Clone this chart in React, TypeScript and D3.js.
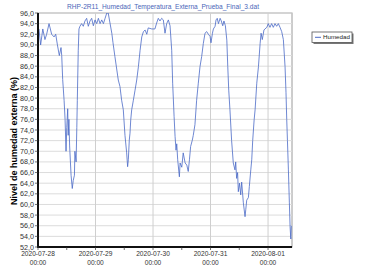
import React from 'react';
import * as d3 from 'd3';

// hours since 2020-07-28 00:00
const hours = [
  0.4, 1.1, 2.0, 2.9, 3.6, 4.6, 5.7, 6.7, 7.4, 8.1, 8.9, 9.6, 9.9, 10.3, 10.9, 11.3, 11.7, 12.0, 12.4, 12.6,
  12.9, 13.2, 13.8, 14.3, 14.7, 15.2, 15.4, 15.9, 16.2, 16.4, 16.8, 17.1, 17.5, 18.2, 18.9, 19.6, 20.3, 21.0, 21.7, 22.4,
  23.1, 23.8, 24.5, 25.2, 25.9, 26.6, 27.3, 28.0, 28.7, 29.3, 30.8, 31.3, 32.1, 33.5, 34.2, 34.9, 35.6, 36.3, 37.0, 37.4,
  37.7, 38.1, 38.4, 38.7, 39.1, 39.8, 40.5, 41.2, 41.9, 42.6, 43.3, 44.0, 44.7, 45.4, 46.0, 47.5, 48.8, 49.5, 50.2, 50.9,
  51.6, 52.3, 53.0, 53.7, 54.4, 55.1, 55.8, 56.2, 56.8, 57.2, 57.6, 57.9, 58.3, 59.0, 59.3, 60.0, 60.6, 61.4, 62.1, 62.7,
  63.2, 63.7, 64.4, 64.8, 65.5, 66.2, 66.9, 67.6, 68.3, 69.0, 69.7, 70.4, 71.1, 71.8, 72.2, 72.8, 73.2, 73.9, 74.3, 74.8,
  75.3, 76.0, 76.5, 77.1, 77.6, 78.2, 78.8, 79.2, 79.6, 80.1, 80.8, 81.5, 82.2, 82.5, 82.9, 83.3, 83.6, 84.1, 84.6, 85.0,
  85.7, 86.4, 86.7, 87.1, 87.8, 88.2, 88.8, 89.2, 89.6, 90.2, 90.6, 91.3, 92.0, 92.7, 93.1, 93.6, 94.3, 94.7, 95.5, 96.1,
  96.8, 97.5, 98.2, 98.9, 99.6, 100.3, 101.0, 101.7, 102.4, 103.1, 103.5, 103.8, 104.1, 104.5, 104.9, 105.2, 105.5, 105.7
];

const humedad = [
  93, 90, 93, 91, 92, 94, 92, 91.5, 92, 90, 88, 89.5, 88, 83.5, 79.5, 76, 70, 74.5, 78, 73,
  76, 71, 65.5, 63, 64.5, 65.5, 70, 68, 74.5, 79.5, 89, 93, 93.5, 94, 93.5, 94.5, 95, 93.5, 94.5, 95,
  93.6, 94.7, 94, 95, 94, 94.7, 94, 95, 96, 96, 92.2, 90.4, 87.8, 83.4, 82.2, 79.6, 77.8, 73, 69.7, 67.1,
  68.4, 72.1, 73.4, 75.9, 77.8, 79.6, 81.5, 83.4, 85.9, 89, 91.5, 92.5, 92.8, 92, 93.2, 93, 93, 94.1, 95, 94.5,
  95, 94.7, 92.2, 94, 94.7, 93.6, 89, 82.8, 76.5, 72.8, 70.2, 71.4, 68.4, 65.2, 67.8, 67, 69.7, 67.8, 67.4, 66.2,
  68.4, 70.9, 72.1, 73, 75, 79.6, 82.8, 85.9, 87.8, 90.3, 92.2, 92.5, 92, 91.6, 90.4, 92.2, 93, 93.5, 94.7, 95,
  94, 95, 94.5, 93.6, 94.5, 93.6, 90.9, 85.9, 81.5, 77.8, 72, 67.8, 66.5, 68, 64.9, 66, 62.4, 64, 61.8, 64.2,
  60.3, 57.7, 59, 60.8, 61.3, 63.4, 66.5, 68.4, 72, 75.9, 77.8, 82.8, 85.9, 90.3, 92.2, 91, 92.8, 93, 93.3, 94,
  93.3, 94, 93.3, 94, 93.5, 94, 93.3, 92.5, 91, 85.9, 81, 76, 72, 66.5, 60.3, 55.8, 53.5, 56
];

const yTicks = d3.range(52, 96.01, 2);
const dayTicks = ['2020-07-28', '2020-07-29', '2020-07-30', '2020-07-31', '2020-08-01'];

const title = 'RHP-2R11_Humedad_Temperatura_Externa_Prueba_Final_3.dat';
const yTitle = 'Nivel de humedad externa (%)';
const seriesName = 'Humedad';

const start = new Date(2020, 6, 28, 0, 0);
const end = new Date(2020, 7, 1, 10, 0);
const toDate = (h: number) => new Date(start.getTime() + h * 3600e3);

export default function App() {
  const width = 383;
  const height = 274;
  const margin = { top: 13, right: 91, bottom: 27, left: 38 };
  const innerW = width - margin.left - margin.right;
  const innerH = height - margin.top - margin.bottom;

  const x = d3.scaleTime().domain([start, end]).range([0, innerW]);
  const y = d3.scaleLinear().domain([52, 96]).range([innerH, 0]);

  const data = hours.map((h, i) => ({ t: toDate(h), v: humedad[i] }));
  const line = d3.line<{ t: Date; v: number }>()
    .x(d => x(d.t))
    .y(d => y(d.v));

  const days = dayTicks.map((_, i) => toDate(i * 24));
  const halfTicks = d3.range(0, 106, 12).map(toDate);
  const fmt = d3.format('.1f');
  const font = 'Liberation Sans, Arial, sans-serif';

  return (
    <svg width={width} height={height} style={{ position: 'absolute', left: 0, top: 0, background: '#fff' }} fontFamily={font}>
      <text x={163} y={8.5} textAnchor="middle" fontSize={6.6} fill="#4a66b8">{title}</text>

      <g transform={`translate(${margin.left},${margin.top})`}>
        <rect x={0} y={0} width={innerW} height={innerH} fill="#fff" stroke="#9a9a9a" strokeWidth={1} />
        {yTicks.map(t => (
          <line key={'gy' + t} x1={0} x2={innerW} y1={y(t)} y2={y(t)} stroke="#dcdcdc" strokeWidth={1} />
        ))}
        {days.map((d, i) => (
          <line key={'gx' + i} x1={x(d)} x2={x(d)} y1={0} y2={innerH} stroke="#cfcfcf" strokeWidth={1} />
        ))}

        <clipPath id="plotclip">
          <rect x={0} y={0} width={innerW} height={innerH} />
        </clipPath>
        <path d={line(data) || ''} fill="none" stroke="#4a6ac6" strokeWidth={0.8} clipPath="url(#plotclip)" />

        {/* axes */}
        <line x1={0} x2={0} y1={0} y2={innerH + 1} stroke="#111" strokeWidth={2} />
        <line x1={-1} x2={innerW} y1={innerH} y2={innerH} stroke="#111" strokeWidth={2} />

        {yTicks.map(t => (
          <g key={'ty' + t}>
            <line x1={-3} x2={0} y1={y(t)} y2={y(t)} stroke="#333" strokeWidth={0.7} />
            <text x={-4} y={y(t)} dy="0.35em" textAnchor="end" fontSize={7.2} fill="#333">{fmt(t).replace('.', ',')}</text>
          </g>
        ))}
        {halfTicks.map((d, i) => (
          <line key={'tx' + i} x1={x(d)} x2={x(d)} y1={innerH} y2={innerH + 3} stroke="#333" strokeWidth={0.7} />
        ))}
        {days.map((d, i) => (
          <text key={'lx' + i} x={x(d)} y={innerH + 9} textAnchor="middle" fontSize={6.6} fill="#333">
            <tspan x={x(d)}>{dayTicks[i]}</tspan>
            <tspan x={x(d)} dy={9}>00:00</tspan>
          </text>
        ))}
      </g>

      <text transform="translate(17,141) rotate(-90)" textAnchor="middle" fontSize={9} fontWeight="bold" fill="#000">
        {yTitle}
      </text>

      <g transform="translate(312,32)">
        <rect x={1.5} y={1.5} width={40} height={10.5} fill="#777" />
        <rect x={0} y={0} width={40} height={10.5} fill="#fff" stroke="#555" strokeWidth={0.8} />
        <line x1={3} x2={9} y1={5.3} y2={5.3} stroke="#4a6ac6" strokeWidth={1} />
        <text x={11} y={5.3} dy="0.35em" fontSize={6.2} fill="#222">{seriesName}</text>
      </g>
    </svg>
  );
}
